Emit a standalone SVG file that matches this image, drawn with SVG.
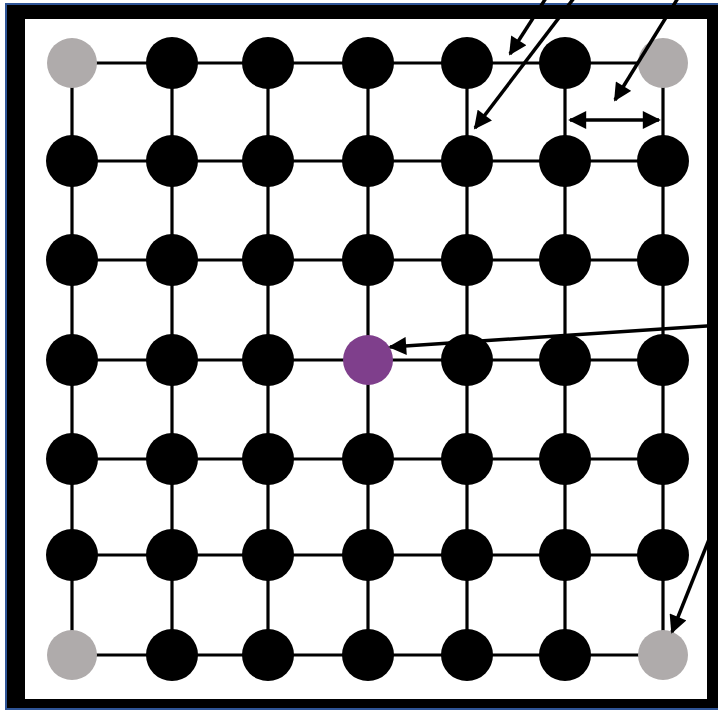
<svg xmlns="http://www.w3.org/2000/svg" width="718" height="711" viewBox="0 0 718 711">
<defs>
<style>
.edge{stroke:#000;stroke-width:3.2;fill:none}
.arr{stroke:#000;stroke-width:3.5;fill:none}
.n{fill:#000}
.c{fill:#afabab}
.p{fill:#7f3f8c}
</style>
<marker id="ah" viewBox="0 0 10 10" refX="9" refY="5" markerUnits="userSpaceOnUse" markerWidth="19" markerHeight="18" orient="auto-start-reverse">
<path d="M0,0 L10,5 L0,10 Z" fill="#000"/>
</marker>
</defs>
<rect x="5" y="3" width="720" height="707" fill="#2f5597"/>
<rect x="7" y="5" width="720" height="703" fill="#000"/>
<rect x="25" y="19" width="682" height="680" fill="#fff"/>
<g id="connectors">
<line class="edge" x1="72" y1="63" x2="663" y2="63"/>
<line class="edge" x1="72" y1="161" x2="663" y2="161"/>
<line class="edge" x1="72" y1="260" x2="663" y2="260"/>
<line class="edge" x1="72" y1="360" x2="663" y2="360"/>
<line class="edge" x1="72" y1="459" x2="663" y2="459"/>
<line class="edge" x1="72" y1="555" x2="663" y2="555"/>
<line class="edge" x1="72" y1="655" x2="663" y2="655"/>
<line class="edge" x1="72" y1="63" x2="72" y2="655"/>
<line class="edge" x1="172" y1="63" x2="172" y2="655"/>
<line class="edge" x1="268" y1="63" x2="268" y2="655"/>
<line class="edge" x1="368" y1="63" x2="368" y2="655"/>
<line class="edge" x1="467" y1="63" x2="467" y2="655"/>
<line class="edge" x1="565" y1="63" x2="565" y2="655"/>
<line class="edge" x1="663" y1="63" x2="663" y2="655"/>
</g>
<g id="nodes">
<g id="n0_0"><circle class="c" cx="72" cy="63" r="25"/></g>
<g id="n0_1"><circle class="n" cx="172" cy="63" r="26"/></g>
<g id="n0_2"><circle class="n" cx="268" cy="63" r="26"/></g>
<g id="n0_3"><circle class="n" cx="368" cy="63" r="26"/></g>
<g id="n0_4"><circle class="n" cx="467" cy="63" r="26"/></g>
<g id="n0_5"><circle class="n" cx="565" cy="63" r="26"/></g>
<g id="n0_6"><circle class="c" cx="663" cy="63" r="25"/></g>
<g id="n1_0"><circle class="n" cx="72" cy="161" r="26"/></g>
<g id="n1_1"><circle class="n" cx="172" cy="161" r="26"/></g>
<g id="n1_2"><circle class="n" cx="268" cy="161" r="26"/></g>
<g id="n1_3"><circle class="n" cx="368" cy="161" r="26"/></g>
<g id="n1_4"><circle class="n" cx="467" cy="161" r="26"/></g>
<g id="n1_5"><circle class="n" cx="565" cy="161" r="26"/></g>
<g id="n1_6"><circle class="n" cx="663" cy="161" r="26"/></g>
<g id="n2_0"><circle class="n" cx="72" cy="260" r="26"/></g>
<g id="n2_1"><circle class="n" cx="172" cy="260" r="26"/></g>
<g id="n2_2"><circle class="n" cx="268" cy="260" r="26"/></g>
<g id="n2_3"><circle class="n" cx="368" cy="260" r="26"/></g>
<g id="n2_4"><circle class="n" cx="467" cy="260" r="26"/></g>
<g id="n2_5"><circle class="n" cx="565" cy="260" r="26"/></g>
<g id="n2_6"><circle class="n" cx="663" cy="260" r="26"/></g>
<g id="n3_0"><circle class="n" cx="72" cy="360" r="26"/></g>
<g id="n3_1"><circle class="n" cx="172" cy="360" r="26"/></g>
<g id="n3_2"><circle class="n" cx="268" cy="360" r="26"/></g>
<g id="n3_3"><circle class="p" cx="368" cy="360" r="25"/></g>
<g id="n3_4"><circle class="n" cx="467" cy="360" r="26"/></g>
<g id="n3_5"><circle class="n" cx="565" cy="360" r="26"/></g>
<g id="n3_6"><circle class="n" cx="663" cy="360" r="26"/></g>
<g id="n4_0"><circle class="n" cx="72" cy="459" r="26"/></g>
<g id="n4_1"><circle class="n" cx="172" cy="459" r="26"/></g>
<g id="n4_2"><circle class="n" cx="268" cy="459" r="26"/></g>
<g id="n4_3"><circle class="n" cx="368" cy="459" r="26"/></g>
<g id="n4_4"><circle class="n" cx="467" cy="459" r="26"/></g>
<g id="n4_5"><circle class="n" cx="565" cy="459" r="26"/></g>
<g id="n4_6"><circle class="n" cx="663" cy="459" r="26"/></g>
<g id="n5_0"><circle class="n" cx="72" cy="555" r="26"/></g>
<g id="n5_1"><circle class="n" cx="172" cy="555" r="26"/></g>
<g id="n5_2"><circle class="n" cx="268" cy="555" r="26"/></g>
<g id="n5_3"><circle class="n" cx="368" cy="555" r="26"/></g>
<g id="n5_4"><circle class="n" cx="467" cy="555" r="26"/></g>
<g id="n5_5"><circle class="n" cx="565" cy="555" r="26"/></g>
<g id="n5_6"><circle class="n" cx="663" cy="555" r="26"/></g>
<g id="n6_0"><circle class="c" cx="72" cy="655" r="25"/></g>
<g id="n6_1"><circle class="n" cx="172" cy="655" r="26"/></g>
<g id="n6_2"><circle class="n" cx="268" cy="655" r="26"/></g>
<g id="n6_3"><circle class="n" cx="368" cy="655" r="26"/></g>
<g id="n6_4"><circle class="n" cx="467" cy="655" r="26"/></g>
<g id="n6_5"><circle class="n" cx="565" cy="655" r="26"/></g>
<g id="n6_6"><circle class="c" cx="663" cy="655" r="25"/></g>
</g>
<g id="arrows">
<line class="arr" x1="546" y1="-2" x2="510" y2="54" marker-end="url(#ah)"/>
<line class="arr" x1="574" y1="-2" x2="475" y2="128" marker-end="url(#ah)"/>
<line class="arr" x1="678" y1="-2" x2="615" y2="100" marker-end="url(#ah)"/>
<line class="arr" x1="570" y1="120" x2="659" y2="120" marker-start="url(#ah)" marker-end="url(#ah)"/>
<line class="arr" x1="720" y1="325" x2="390" y2="347" marker-end="url(#ah)"/>
<line class="arr" x1="720" y1="512" x2="672" y2="632" marker-end="url(#ah)"/>
</g>
</svg>
